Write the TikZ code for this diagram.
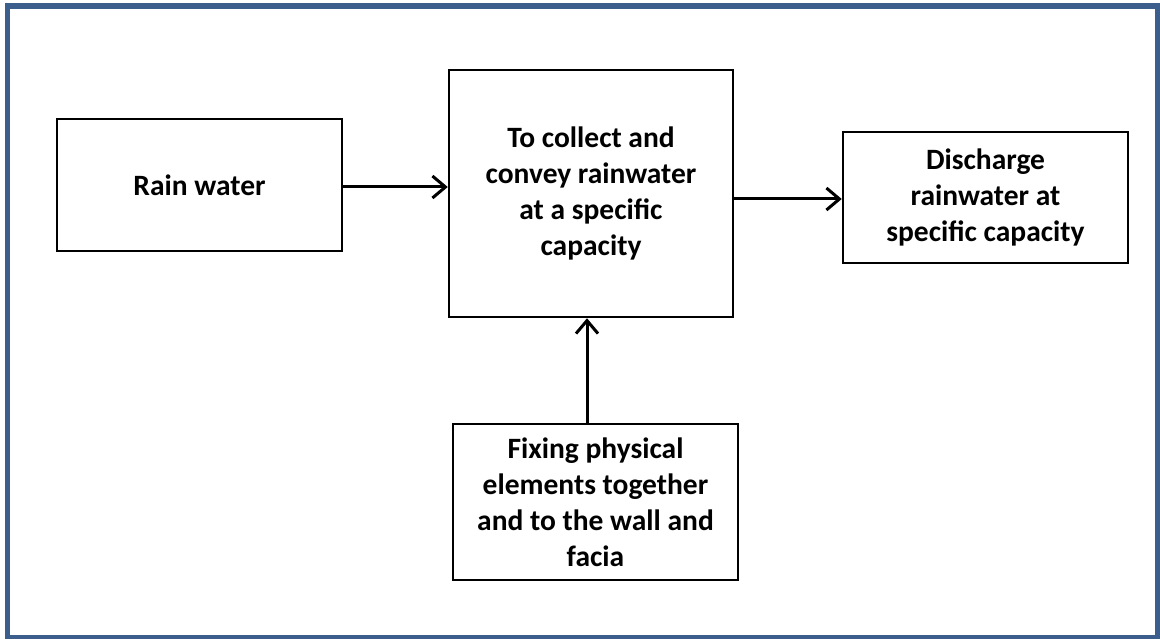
\documentclass[tikz,border=0pt]{standalone}
\usepackage{fontspec}
\setmainfont{Carlito}
\usetikzlibrary{arrows.meta}
\definecolor{frameblue}{RGB}{59,94,140}
\begin{document}
\begin{tikzpicture}[x=1pt,y=-1pt,
  box/.style={draw=black, line width=2.5pt, align=center, inner sep=0pt,
    font=\fontsize{29.5}{36}\selectfont\bfseries},
  flow/.style={line width=3pt, -{Straight Barb[length=13pt,width=22pt,line width=3pt]}}]
\useasboundingbox (0,0) rectangle (1160,639);
\fill[white] (0,0) rectangle (1160,639);
\draw[frameblue, line width=5.5pt] (7.5,6) rectangle (1158,637.5);
\node[box, minimum width=285pt, minimum height=132pt] (rain) at (199.5,185) {Rain water};
\node[box, minimum width=284pt, minimum height=247pt] (mid) at (591,193.5)
  {To collect and\\convey rainwater\\at a specific\\capacity};
\node[box, minimum width=285pt, minimum height=131pt] (out) at (985.5,197.5)
  {Discharge\\rainwater at\\specific capacity};
\node[box, minimum width=285pt, minimum height=156pt] (fix) at (595.5,502)
  {Fixing physical\\elements together\\and to the wall and\\facia};
\draw[flow] ([yshift=-2pt]rain.east) -- ([yshift=-2pt]rain.east -| mid.west);
\draw[flow] ([yshift=-5.5pt]mid.east) -- ([yshift=-5.5pt]mid.east -| out.west);
\draw[flow] ([xshift=-8.5pt]fix.north) -- ([xshift=-8.5pt]fix.north |- mid.south);
\end{tikzpicture}
\end{document}
